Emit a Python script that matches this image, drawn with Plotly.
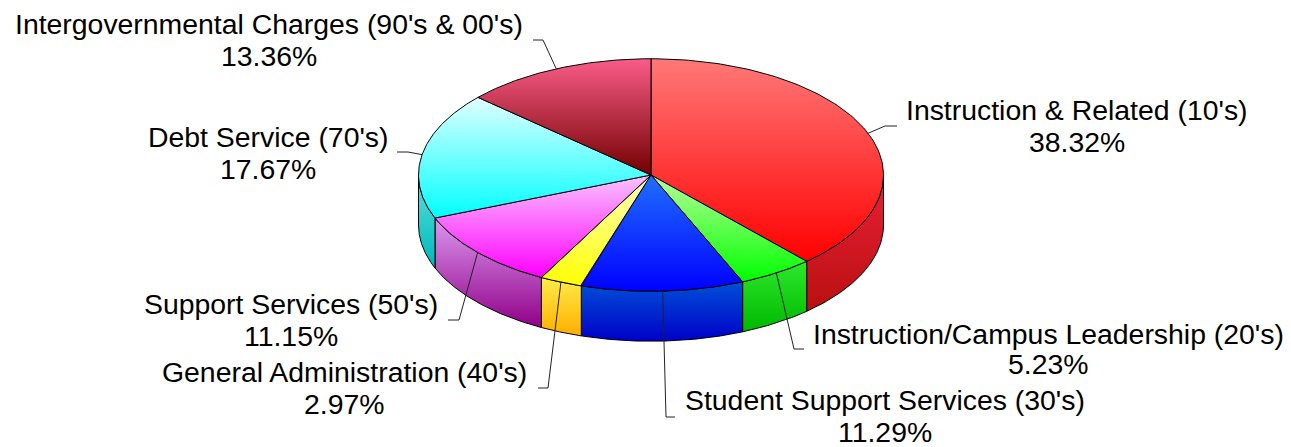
import numpy as np
import plotly.graph_objects as go

# ---------- data ----------
categories = ["Instruction & Related (10's)", "Instruction/Campus Leadership (20's)",
              "Student Support Services (30's)", "General Administration (40's)",
              "Support Services (50's)", "Debt Service (70's)",
              "Intergovernmental Charges (90's & 00's)"]
shares = [38.32, 5.23, 11.29, 2.97, 11.15, 17.67, 13.36]

# ---------- styles ----------
top_colors = [("#ff7878", "#ff0000"), ("#b8ff98", "#00ff00"), ("#2070ff", "#0000ff"),
              ("#ffffc0", "#ffff00"), ("#f8c4ff", "#ff00ff"), ("#e0ffff", "#00ffff"),
              ("#fa5c88", "#720000")]
side_colors = [("#ea2038", "#b81010"), ("#2ce82c", "#00b800"), ("#0050d8", "#0000c8"),
               ("#ffec48", "#ffae00"), ("#dc98f0", "#900088"), ("#58e0e0", "#00b8b8"),
               ("#a00030", "#600000")]

# ---------- geometry (pixels) ----------
W, H = 1291, 447
CX, CY, RX, TILT, DEPTH = 651, 175, 232.5, 0.5, 50
def px_x(p): return (p - CX) / RX
def px_y(p): return (CY - p) / RX
D = DEPTH / RX

# label layout, in pixels: elbow, horizontal end, label centre x, first line y, second line y
label_layout = [
    ((885, 126), (897, 126), 1076.5, 110, 142),
    ((794, 349), (804, 349), 1048.5, 334, 364),
    ((666, 417), (675, 417), 885, 400, 432),
    ((548, 388), (538, 388), 344, 372, 404),
    ((459, 320), (448, 320), 291, 304, 336),
    ((408, 152), (397, 152), 268, 137, 169),
    ((543, 40), (533, 40), 269, 24, 56),
]

edges = np.concatenate([[0], np.cumsum(shares)]) / np.sum(shares) * 2 * np.pi

def arc(a0, a1, n=120):
    t = np.linspace(a0, a1, n)
    return np.sin(t), TILT * np.cos(t)

def gradient(pair):
    return dict(type="vertical", colorscale=[[0, pair[1]], [1, pair[0]]])

fig = go.Figure()
OUTLINE = dict(color="#000000", width=1)

# side walls (only the front half of the drum, pi/2 .. 3pi/2)
for i in range(len(shares)):
    a0, a1 = max(edges[i], np.pi / 2), min(edges[i + 1], 3 * np.pi / 2)
    if a1 <= a0:
        continue
    x, y = arc(a0, a1)
    fig.add_trace(go.Scatter(
        x=np.concatenate([x, x[::-1], x[:1]]),
        y=np.concatenate([y, y[::-1] - D, y[:1]]),
        mode="lines", fill="toself", line=OUTLINE,
        fillgradient=gradient(side_colors[i]), hoverinfo="skip", showlegend=False))

# top wedges
for i in range(len(shares)):
    x, y = arc(edges[i], edges[i + 1])
    fig.add_trace(go.Scatter(
        x=np.concatenate([[0], x, [0]]), y=np.concatenate([[0], y, [0]]),
        mode="lines", fill="toself", line=OUTLINE,
        fillgradient=gradient(top_colors[i]), name=categories[i],
        hoverinfo="name", showlegend=False))

# leader lines and labels
annotations = []
for i, (name, share) in enumerate(zip(categories, shares)):
    mid = (edges[i] + edges[i + 1]) / 2
    elbow, end, lx, y1, y2 = label_layout[i]
    fig.add_trace(go.Scatter(
        x=[np.sin(mid), px_x(elbow[0]), px_x(end[0])],
        y=[TILT * np.cos(mid), px_y(elbow[1]), px_y(end[1])],
        mode="lines", line=dict(color="#222222", width=1), hoverinfo="skip", showlegend=False))
    for txt, ly in ((name, y1), (f"{share:.2f}%", y2)):
        annotations.append(dict(x=px_x(lx), y=px_y(ly), text=txt, showarrow=False,
                                xanchor="center", yanchor="middle",
                                font=dict(family="Liberation Sans", size=28.4, color="#000000")))

fig.update_layout(
    width=W, height=H, margin=dict(l=0, r=0, t=0, b=0),
    paper_bgcolor="white", plot_bgcolor="white", showlegend=False,
    xaxis=dict(range=[px_x(0), px_x(W)], visible=False, fixedrange=True),
    yaxis=dict(range=[px_y(H), px_y(0)], visible=False, fixedrange=True),
    annotations=annotations)

fig.write_html("out.html", post_script="document.body.style.margin='0';",
               config={"displayModeBar": False})
